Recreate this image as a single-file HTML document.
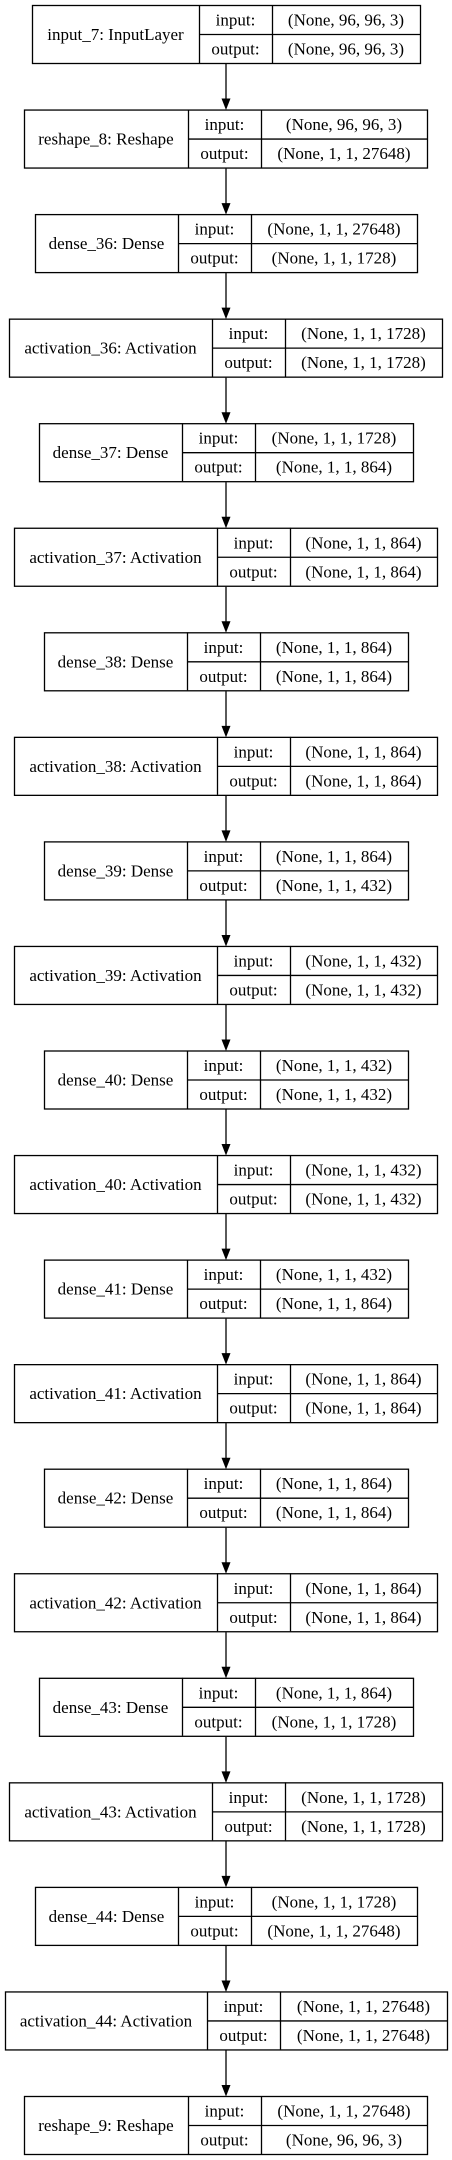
<!DOCTYPE html>
<html><head><meta charset="utf-8"><style>
html,body{margin:0;padding:0;background:#fff;width:452px;height:2160px;overflow:hidden}
svg{display:block}
text{font-family:"Liberation Serif",serif;font-size:17px;fill:#000}
</style></head><body>
<svg id="g" width="452" height="2160" viewBox="0 0 452 2160" xmlns="http://www.w3.org/2000/svg"></svg>
<script>
const layerNames=["input_7: InputLayer","reshape_8: Reshape","dense_36: Dense","activation_36: Activation","dense_37: Dense","activation_37: Activation","dense_38: Dense","activation_38: Activation","dense_39: Dense","activation_39: Activation","dense_40: Dense","activation_40: Activation","dense_41: Dense","activation_41: Activation","dense_42: Dense","activation_42: Activation","dense_43: Dense","activation_43: Activation","dense_44: Dense","activation_44: Activation","reshape_9: Reshape"];
const inputShapes=["(None, 96, 96, 3)","(None, 96, 96, 3)","(None, 1, 1, 27648)","(None, 1, 1, 1728)","(None, 1, 1, 1728)","(None, 1, 1, 864)","(None, 1, 1, 864)","(None, 1, 1, 864)","(None, 1, 1, 864)","(None, 1, 1, 432)","(None, 1, 1, 432)","(None, 1, 1, 432)","(None, 1, 1, 432)","(None, 1, 1, 864)","(None, 1, 1, 864)","(None, 1, 1, 864)","(None, 1, 1, 864)","(None, 1, 1, 1728)","(None, 1, 1, 1728)","(None, 1, 1, 27648)","(None, 1, 1, 27648)"];
const outputShapes=["(None, 96, 96, 3)","(None, 1, 1, 27648)","(None, 1, 1, 1728)","(None, 1, 1, 1728)","(None, 1, 1, 864)","(None, 1, 1, 864)","(None, 1, 1, 864)","(None, 1, 1, 864)","(None, 1, 1, 432)","(None, 1, 1, 432)","(None, 1, 1, 432)","(None, 1, 1, 432)","(None, 1, 1, 864)","(None, 1, 1, 864)","(None, 1, 1, 864)","(None, 1, 1, 864)","(None, 1, 1, 1728)","(None, 1, 1, 1728)","(None, 1, 1, 27648)","(None, 1, 1, 27648)","(None, 96, 96, 3)"];
const geom=[[32,199,272,420],[24,188,261,427],[35,178,251,417],[9,212,285,442],[39,182,255,413],[14,217,290,437],[44,187,260,408],[14,217,290,437],[44,187,260,408],[14,217,290,437],[44,187,260,408],[14,217,290,437],[44,187,260,408],[14,217,290,437],[44,187,260,408],[14,217,290,437],[39,182,255,413],[9,212,285,442],[35,178,251,417],[5,207,280,447],[24,188,261,427]];
const svg=document.getElementById('g');
const NS="http://www.w3.org/2000/svg";
function mk(t,a){const e=document.createElementNS(NS,t);for(const k in a)e.setAttribute(k,a[k]);svg.appendChild(e);return e;}
const top0=5,pitch=104.55,H=58,cx=226;
function txt(x,y,s,name){const e=mk('text',{x:x,y:y,'text-anchor':'middle'});e.textContent=s;


return e;}
for(let i=0;i<layerNames.length;i++){
  const y=top0+i*pitch,[l,d1,d2,r]=geom[i];
  const box=mk('rect',{x:l+0.5,y:y+0.5,width:r-l,height:H,fill:'#fff',stroke:'#000','stroke-width':1.3});
  
  
  mk('line',{x1:d1+0.5,y1:y,x2:d1+0.5,y2:y+H,stroke:'#000','stroke-width':1.3});
  mk('line',{x1:d2+0.5,y1:y,x2:d2+0.5,y2:y+H,stroke:'#000','stroke-width':1.3});
  mk('line',{x1:d1,y1:y+H/2+0.5,x2:r,y2:y+H/2+0.5,stroke:'#000','stroke-width':1.3});
  txt((l+d1)/2,y+H/2+6,layerNames[i],'layer-name');
  txt((d1+d2)/2,y+H/4+6,'input:','input-label');
  txt((d1+d2)/2,y+3*H/4+6,'output:','output-label');
  txt((d2+r)/2,y+H/4+6,inputShapes[i],'input-shape');
  txt((d2+r)/2,y+3*H/4+6,outputShapes[i],'output-shape');
  if(i<layerNames.length-1){
    const y1=y+H+1,y2=top0+(i+1)*pitch;
    const ln=mk('line',{x1:cx,y1:y1,x2:cx,y2:y2-10,stroke:'#000','stroke-width':1.3});
    
    
    mk('polygon',{points:`${cx-4.5},${y2-11} ${cx+4.5},${y2-11} ${cx},${y2+0.5}`,fill:'#000'});
  }
}
</script>
</body></html>
